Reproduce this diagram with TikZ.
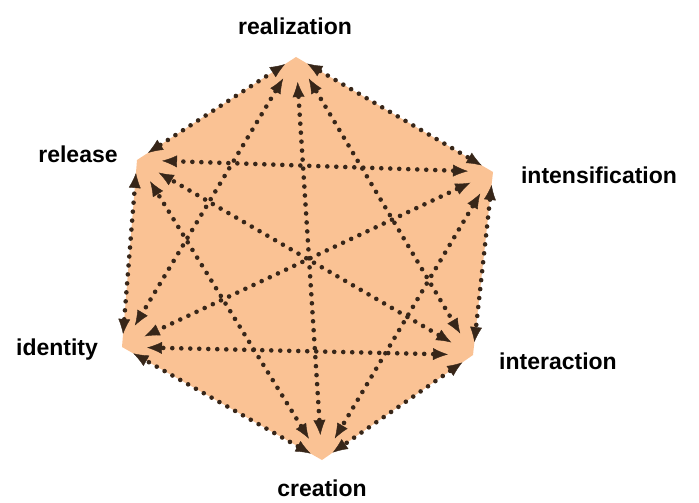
\documentclass[tikz,border=0pt]{standalone}
\usepackage{fontspec}
\setmainfont{Liberation Sans}
\usetikzlibrary{arrows.meta}
\definecolor{peach}{RGB}{250,194,148}
\definecolor{dotbrown}{RGB}{55,38,25}
\tikzset{
  lbl/.style={font=\bfseries\fontsize{23}{26}\selectfont, text=black, inner sep=0pt},
  link/.style={draw=dotbrown, line width=4.6pt, line cap=round, dash pattern=on 0pt off 9pt,
    {Latex[length=15pt,width=12pt,line width=0.4pt]}-{Latex[length=15pt,width=12pt,line width=0.4pt]}},
  side/.style={link, shorten <=13pt, shorten >=13pt},
  diag/.style={link, shorten <=25pt, shorten >=25pt},
}
\begin{document}
\begin{tikzpicture}[x=1pt,y=-1pt]
\useasboundingbox (0,0) rectangle (699,503);
\coordinate (A) at (296,57);
\coordinate (B) at (493,172);
\coordinate (C) at (473,355);
\coordinate (D) at (322,460);
\coordinate (E) at (122,347);
\coordinate (F) at (137,160);
\fill[peach] (A) -- (B) -- (C) -- (D) -- (E) -- (F) -- cycle;
\foreach \p/\q in {A/B,B/C,C/D,D/E,E/F,F/A}{
  \draw[side] (\p) -- (\q);
}
\foreach \p/\q in {A/C,A/D,A/E,B/D,B/E,B/F,C/E,C/F,D/F}{
  \draw[diag] (\p) -- (\q);
}
\node[lbl] (lA) at (295,26) {realization};
\node[lbl] (lB) at (599,175) {intensification};
\node[lbl] (lC) at (558,361) {interaction};
\node[lbl, anchor=base] (lD) at (322,496) {creation};
\node[lbl] (lE) at (57,350) {identity};
\node[lbl] (lF) at (78,154) {release};
\end{tikzpicture}
\end{document}
